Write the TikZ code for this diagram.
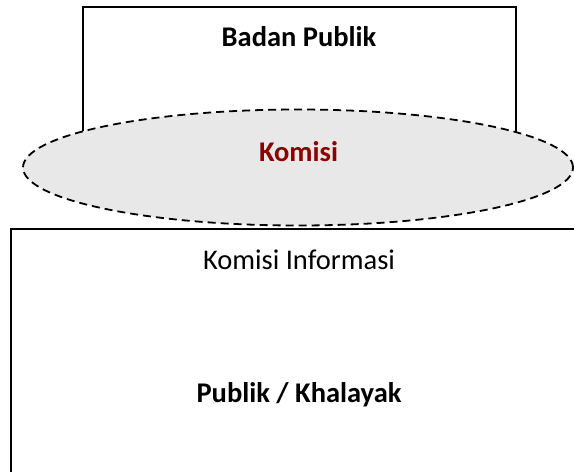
\documentclass[tikz,border=0pt]{standalone}
\usepackage{fontspec}
\setmainfont{Carlito}
\usetikzlibrary{shapes.geometric}
\definecolor{ellfill}{RGB}{232,232,232}
\definecolor{komred}{RGB}{140,0,0}
\tikzset{
  boxline/.style={draw=black, line width=1.8pt, fill=white},
  ellshape/.style={ellipse, draw=black, line width=1.8pt, dash pattern=on 8pt off 5pt, fill=ellfill, inner sep=0pt},
  lbl/.style={inner sep=0pt, font=\fontsize{28.5}{34}\selectfont}
}
\begin{document}
\begin{tikzpicture}[x=1pt,y=-1pt]
\useasboundingbox (0,0) rectangle (574,472);
\clip (0,0) rectangle (574,472);
\node[boxline, rectangle, minimum width=433pt, minimum height=134pt, anchor=north west] (badanbox) at (82,6) {};
\node[boxline, rectangle, minimum width=580pt, minimum height=260pt, anchor=north west] (publikbox) at (10,228) {};
\node[ellshape, minimum width=550pt, minimum height=116pt] (komisiell) at (298,167.5) {};
\node[lbl, font=\fontsize{28.5}{34}\selectfont\bfseries] (badan) at (299,37) {Badan Publik};
\node[lbl, font=\fontsize{28.5}{34}\selectfont\bfseries, text=komred] (komisi) at (298.5,152) {Komisi};
\node[lbl] (ki) at (299,260) {Komisi Informasi};
\node[lbl, font=\fontsize{28.5}{34}\selectfont\bfseries] (publik) at (299,395) {Publik / Khalayak};
\end{tikzpicture}
\end{document}
